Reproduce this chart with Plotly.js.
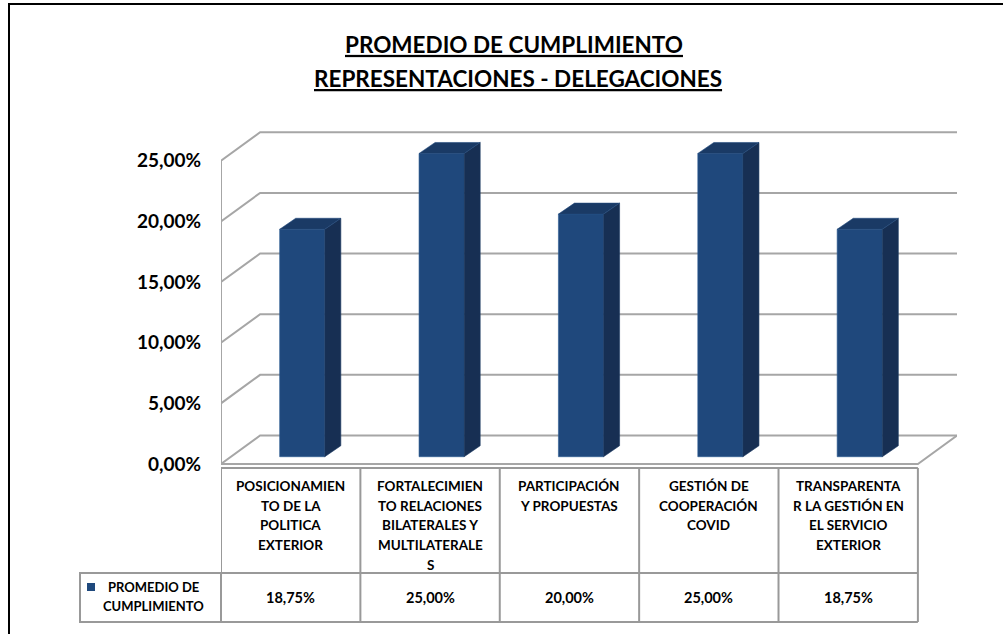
<!DOCTYPE html>
<html>
<head>
<meta charset="utf-8">
<script src="https://cdn.plot.ly/plotly-3.0.1.min.js"></script>
<style>html,body{margin:0;padding:0;background:#fff;}#chart{width:1003px;height:634px;}</style>
</head>
<body>
<div id="chart"></div>
<script>
// ---- data ----
var categories = [
  "POSICIONAMIEN<br>TO DE LA<br>POLITICA<br>EXTERIOR",
  "FORTALECIMIEN<br>TO RELACIONES<br>BILATERALES Y<br>MULTILATERALE<br>S",
  "PARTICIPACIÓN<br>Y PROPUESTAS",
  "GESTIÓN DE<br>COOPERACIÓN<br>COVID",
  "TRANSPARENTA<br>R LA GESTIÓN EN<br>EL SERVICIO<br>EXTERIOR"
];
var values = [18.75, 25.00, 20.00, 25.00, 18.75];
var seriesName = "PROMEDIO DE<br>CUMPLIMIENTO";
var tickVals = [0, 5, 10, 15, 20, 25];
var tickText = ["0,00%", "5,00%", "10,00%", "15,00%", "20,00%", "25,00%"];
var titleLines = ["PROMEDIO DE CUMPLIMIENTO", "REPRESENTACIONES - DELEGACIONES"];

// ---- geometry (style) ----
var PXX = 139, PXY = 12.13;          // px per category, px per %
var DX = 39 / PXX, DY = 28.5 / PXY;  // wall depth
var BB = 0.6, SX = 11.5 / PXX, BW = 45 / PXX, SDX = 16 / PXX, SDY = 11 / PXY;
var N = categories.length;
var XMAX = N + DX;
var yTopR = (464 - 120) / PXY, yBotR = (464 - 630) / PXY;
var tTop = -4 / PXY, tMid = -109 / PXY, tBot = -158 / PXY;
var fontFam = "Lato, 'Open Sans', sans-serif";
var gridCol = "#a6a6a6", tabCol = "#999999";

var shapeList = [];
tickVals.forEach(function (v) {
  shapeList.push({type: "path", xref: "x", yref: "y", layer: "below",
    path: "M0," + v + " L" + DX + "," + (v + DY) + " L" + XMAX + "," + (v + DY),
    line: {color: gridCol, width: 2}});
});
shapeList.push({type: "line", xref: "x", yref: "y", layer: "below", x0: 0, x1: 0, y0: 0, y1: tickVals[tickVals.length - 1], line: {color: gridCol, width: 2}});
shapeList.push({type: "path", xref: "x", yref: "y", layer: "below",
  path: "M0,0 L" + N + ",0 L" + XMAX + "," + DY, line: {color: gridCol, width: 2}});

for (var i = 0; i <= N; i++) {
  shapeList.push({type: "line", xref: "x", yref: "y", x0: i, x1: i, y0: tTop, y1: tBot, line: {color: tabCol, width: 2}});
}
[tTop, tMid, tBot].forEach(function (yy) {
  shapeList.push({type: "line", xref: "x", yref: "y", x0: 0, x1: N, y0: yy, y1: yy, line: {color: tabCol, width: 2}});
});
function px2paperX(px) { return (px - 221) / 736; }
function px2paperY(py) { return (630 - py) / 510; }
shapeList.push({type: "rect", xref: "paper", yref: "paper", x0: px2paperX(80), x1: px2paperX(221), y0: px2paperY(622), y1: px2paperY(573), line: {color: tabCol, width: 2}});
shapeList.push({type: "rect", xref: "paper", yref: "paper", x0: px2paperX(87), x1: px2paperX(95), y0: px2paperY(591), y1: px2paperY(583), line: {width: 0}, fillcolor: "#1f497d"});
// outer chart-area frame (left and top edges visible)
shapeList.push({type: "path", xref: "paper", yref: "paper",
  path: "M" + px2paperX(9) + "," + px2paperY(660) + " L" + px2paperX(9) + "," + px2paperY(4) + " L" + px2paperX(1040) + "," + px2paperY(4),
  line: {color: "#000", width: 2}});

// ---- traces ----
var centers = values.map(function (v, i) { return i + 0.5 + SX; });
var frontFace = {
  type: "bar", x: centers, y: values, base: values.map(function () { return BB; }), width: BW,
  marker: {color: "#1f487c", line: {color: "#2b5a92", width: 0.6}},
  hoverinfo: "skip", showlegend: false
};
var sx = [], sy = [], tx = [], ty = [];
values.forEach(function (v, i) {
  var xl = centers[i] - BW / 2, xr = centers[i] + BW / 2, yt = BB + v;
  sx.push(xr, xr + SDX, xr + SDX, xr, xr, null);
  sy.push(BB, BB + SDY, yt + SDY, yt, BB, null);
  tx.push(xl, xr, xr + SDX, xl + SDX, xl, null);
  ty.push(yt, yt, yt + SDY, yt + SDY, yt, null);
});
var sideFace = {type: "scatter", mode: "lines", x: sx, y: sy, fill: "toself", fillcolor: "#172f53",
  line: {color: "#1c3a63", width: 0.6}, hoverinfo: "skip", showlegend: false};
var topFace = {type: "scatter", mode: "lines", x: tx, y: ty, fill: "toself", fillcolor: "#1a3a65",
  line: {color: "#244b7d", width: 0.6}, hoverinfo: "skip", showlegend: false};

// ---- annotations ----
var ann = [];
var LH = 19.7;
categories.forEach(function (c, i) {
  c.split("<br>").forEach(function (ln, k) {
    ann.push({xref: "x", yref: "y", x: i + 0.5, y: tTop, yanchor: "middle", yshift: -(18 + k * LH),
      text: "<b>" + ln + "</b>", showarrow: false, font: {family: fontFam, size: 13.5, color: "#000"}});
  });
  ann.push({xref: "x", yref: "y", x: i + 0.5, y: (tMid + tBot) / 2, yanchor: "middle",
    text: "<b>" + values[i].toFixed(2).replace(".", ",") + "%</b>", showarrow: false,
    font: {family: fontFam, size: 14.5, color: "#000"}});
});
seriesName.split("<br>").forEach(function (ln, k) {
  ann.push({xref: "paper", yref: "paper", x: px2paperX(153), y: px2paperY(587 + k * 19), xanchor: "center", yanchor: "middle",
    text: "<b>" + ln + "</b>", showarrow: false, font: {family: fontFam, size: 13, color: "#000"}});
});
ann.push({xref: "paper", yref: "paper", x: px2paperX(518), y: px2paperY(78), xanchor: "center", yanchor: "middle",
  text: '<b><span style="text-decoration:underline">' + titleLines[1] + "</span></b>", showarrow: false,
  font: {family: fontFam, size: 22.5, color: "#000"}});

var layout = {
  width: 1003, height: 634,
  margin: {l: 221, r: 46, t: 120, b: 4},
  paper_bgcolor: "#fff", plot_bgcolor: "#fff",
  title: {text: '<b><span style="text-decoration:underline">' + titleLines[0] + "</span></b>",
    font: {family: fontFam, size: 22.5, color: "#000"},
    xref: "paper", x: px2paperX(514), xanchor: "center", yref: "container", y: 1 - 45 / 634, yanchor: "middle"},
  xaxis: {range: [0, XMAX], visible: false, fixedrange: true},
  yaxis: {range: [yBotR, yTopR], showgrid: false, zeroline: false, showline: false,
    tickmode: "array", tickvals: tickVals, ticktext: tickText, ticks: "", ticklabelstandoff: 19,
    tickfont: {family: fontFam, size: 19, color: "#000", weight: "bold"}, fixedrange: true},
  shapes: shapeList,
  annotations: ann,
  showlegend: false
};
Plotly.newPlot("chart", [frontFace, sideFace, topFace], layout, {displayModeBar: false, staticPlot: true});
</script>
</body>
</html>
